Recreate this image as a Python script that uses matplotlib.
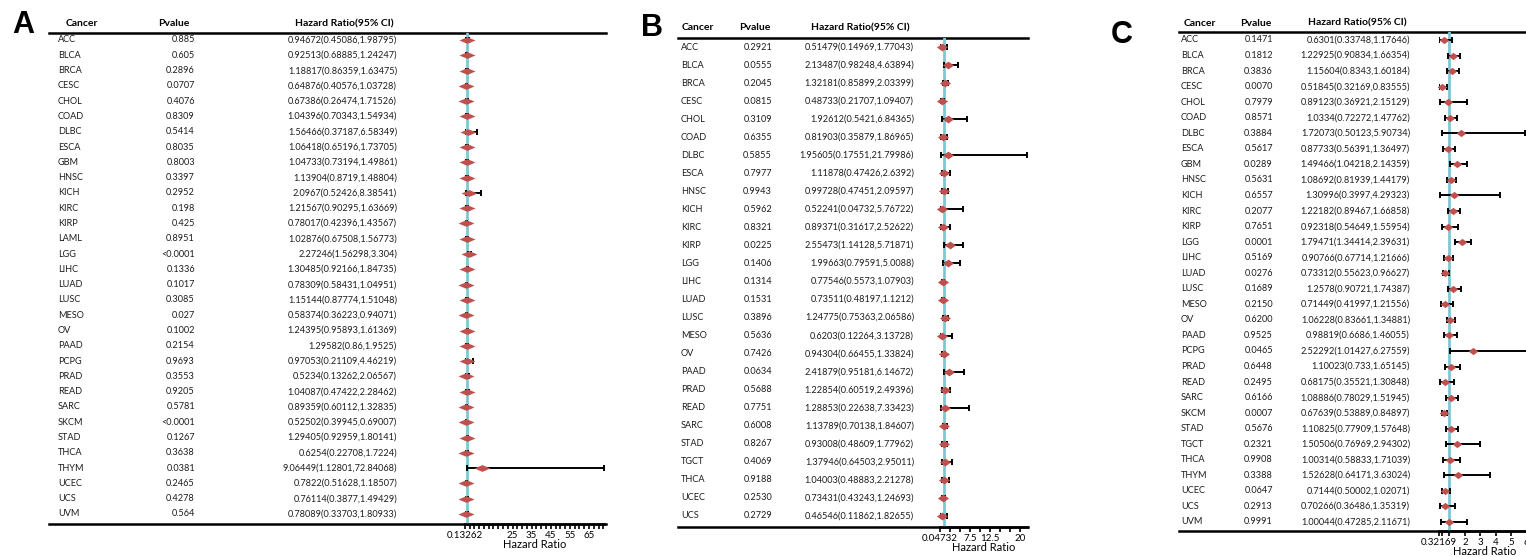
import numpy as np
import matplotlib
matplotlib.use("Agg")
import matplotlib.pyplot as plt
from matplotlib.transforms import blended_transform_factory

plt.rcParams['font.family'] = ['Lato', 'DejaVu Sans']

W, H = 1526, 557

# ---------------- panel A ----------------
cancer_a = ["ACC", "BLCA", "BRCA", "CESC", "CHOL", "COAD", "DLBC", "ESCA", "GBM", "HNSC",
            "KICH", "KIRC", "KIRP", "LAML", "LGG", "LIHC", "LUAD", "LUSC", "MESO", "OV",
            "PAAD", "PCPG", "PRAD", "READ", "SARC", "SKCM", "STAD", "THCA", "THYM", "UCEC",
            "UCS", "UVM"]
pval_a = ["0.885", "0.605", "0.2896", "0.0707", "0.4076", "0.8309", "0.5414", "0.8035", "0.8003", "0.3397",
          "0.2952", "0.198", "0.425", "0.8951", "<0.0001", "0.1336", "0.1017", "0.3085", "0.027", "0.1002",
          "0.2154", "0.9693", "0.3553", "0.9205", "0.5781", "<0.0001", "0.1267", "0.3638", "0.0381", "0.2465",
          "0.4278", "0.564"]
hr_a = [0.94672, 0.92513, 1.18817, 0.64876, 0.67386, 1.04396, 1.56466, 1.06418, 1.04733, 1.13904,
        2.0967, 1.21567, 0.78017, 1.02876, 2.27246, 1.30485, 0.78309, 1.15144, 0.58374, 1.24395,
        1.29582, 0.97053, 0.5234, 1.04087, 0.89359, 0.52502, 1.29405, 0.6254, 9.06449, 0.7822,
        0.76114, 0.78089]
low_a = [0.45086, 0.68885, 0.86359, 0.40576, 0.26474, 0.70343, 0.37187, 0.65196, 0.73194, 0.8719,
         0.52426, 0.90295, 0.42396, 0.67508, 1.56298, 0.92166, 0.58431, 0.87774, 0.36223, 0.95893,
         0.86, 0.21109, 0.13262, 0.47422, 0.60112, 0.39945, 0.92959, 0.22708, 1.12801, 0.51628,
         0.3877, 0.33703]
high_a = [1.98795, 1.24247, 1.63475, 1.03728, 1.71526, 1.54934, 6.58349, 1.73705, 1.49861, 1.48804,
          8.38541, 1.63669, 1.43567, 1.56773, 3.304, 1.84735, 1.04951, 1.51048, 0.94071, 1.61369,
          1.9525, 4.46219, 2.06567, 2.28462, 1.32835, 0.69007, 1.80141, 1.7224, 72.84068, 1.18507,
          1.49429, 1.80933]
ticks_a = np.arange(2.5, 73, 2.5)
labels_a = [25, 35, 45, 55, 65]

# ---------------- panel B ----------------
cancer_b = ["ACC", "BLCA", "BRCA", "CESC", "CHOL", "COAD", "DLBC", "ESCA", "HNSC", "KICH",
            "KIRC", "KIRP", "LGG", "LIHC", "LUAD", "LUSC", "MESO", "OV", "PAAD", "PRAD",
            "READ", "SARC", "STAD", "TGCT", "THCA", "UCEC", "UCS"]
pval_b = ["0.2921", "0.0555", "0.2045", "0.0815", "0.3109", "0.6355", "0.5855", "0.7977", "0.9943", "0.5962",
          "0.8321", "0.0225", "0.1406", "0.1314", "0.1531", "0.3896", "0.5636", "0.7426", "0.0634", "0.5688",
          "0.7751", "0.6008", "0.8267", "0.4069", "0.9188", "0.2530", "0.2729"]
hr_b = [0.51479, 2.13487, 1.32181, 0.48733, 1.92612, 0.81903, 1.95605, 1.11878, 0.99728, 0.52241,
        0.89371, 2.55473, 1.99663, 0.77546, 0.73511, 1.24775, 0.6203, 0.94304, 2.41879, 1.22854,
        1.28853, 1.13789, 0.93008, 1.37946, 1.04003, 0.73431, 0.46546]
low_b = [0.14969, 0.98248, 0.85899, 0.21707, 0.5421, 0.35879, 0.17551, 0.47426, 0.47451, 0.04732,
         0.31617, 1.14128, 0.79591, 0.5573, 0.48197, 0.75363, 0.12264, 0.66455, 0.95181, 0.60519,
         0.22638, 0.70138, 0.48609, 0.64503, 0.48883, 0.43243, 0.11862]
high_b = [1.77043, 4.63894, 2.03399, 1.09407, 6.84365, 1.86965, 21.79986, 2.6392, 2.09597, 5.76722,
          2.52622, 5.71871, 5.0088, 1.07903, 1.1212, 2.06586, 3.13728, 1.33824, 6.14672, 2.49396,
          7.33423, 1.84607, 1.77962, 2.95011, 2.21278, 1.24693, 1.82655]
ticks_b = np.arange(2.5, 21, 2.5)
labels_b = [7.5, 12.5, 20]

# ---------------- panel C ----------------
cancer_c = ["ACC", "BLCA", "BRCA", "CESC", "CHOL", "COAD", "DLBC", "ESCA", "GBM", "HNSC",
            "KICH", "KIRC", "KIRP", "LGG", "LIHC", "LUAD", "LUSC", "MESO", "OV", "PAAD",
            "PCPG", "PRAD", "READ", "SARC", "SKCM", "STAD", "TGCT", "THCA", "THYM", "UCEC",
            "UCS", "UVM"]
pval_c = ["0.1471", "0.1812", "0.3836", "0.0070", "0.7979", "0.8571", "0.3884", "0.5617", "0.0289", "0.5631",
          "0.6557", "0.2077", "0.7651", "0.0001", "0.5169", "0.0276", "0.1689", "0.2150", "0.6200", "0.9525",
          "0.0465", "0.6448", "0.2495", "0.6166", "0.0007", "0.5676", "0.2321", "0.9908", "0.3388", "0.0647",
          "0.2913", "0.9991"]
hr_c = [0.6301, 1.22925, 1.15604, 0.51845, 0.89123, 1.0334, 1.72073, 0.87733, 1.49466, 1.08692,
        1.30996, 1.22182, 0.92318, 1.79471, 0.90766, 0.73312, 1.2578, 0.71449, 1.06228, 0.98819,
        2.52292, 1.10023, 0.68175, 1.08886, 0.67639, 1.10825, 1.50506, 1.00314, 1.52628, 0.7144,
        0.70266, 1.00044]
low_c = [0.33748, 0.90834, 0.8343, 0.32169, 0.36921, 0.72272, 0.50123, 0.56391, 1.04218, 0.81939,
         0.3997, 0.89467, 0.54649, 1.34414, 0.67714, 0.55623, 0.90721, 0.41997, 0.83661, 0.6686,
         1.01427, 0.733, 0.35521, 0.78029, 0.53889, 0.77909, 0.76969, 0.58833, 0.64171, 0.50002,
         0.36486, 0.47285]
high_c = [1.17646, 1.66354, 1.60184, 0.83555, 2.15129, 1.47762, 5.90734, 1.36497, 2.14359, 1.44179,
          4.29323, 1.66858, 1.55954, 2.39631, 1.21666, 0.96627, 1.74387, 1.21556, 1.34881, 1.46055,
          6.27559, 1.65145, 1.30848, 1.51945, 0.84897, 1.57648, 2.94302, 1.71039, 3.63024, 1.02071,
          1.35319, 2.11671]
ticks_c = [0.5, 1, 2, 3, 4, 5, 6]
labels_c = [2, 3, 4, 5, 6]

RED = '#c0504d'
CYAN = '#7cc8d3'
TXT = '#1c1c1c'


def fx(px):
    return px / W


def fy(py):
    return 1 - py / H


def forest(fig, letter, cancer, pval, hr, low, high, ticks, shown, lay):
    n = len(cancer)
    step = (lay['last'] - lay['first']) / (n - 1)
    y_top = -(lay['first'] - lay['top']) / step
    y_bot = (n - 1) + (lay['bottom'] - lay['last']) / step
    rows = np.arange(n)
    hr, low, high = np.array(hr), np.array(low), np.array(high)

    # table frame (top rule + bottom rule)
    tab = fig.add_axes([fx(lay['left']), fy(lay['bottom']),
                        fx(lay['right']) - fx(lay['left']), fy(lay['top']) - fy(lay['bottom'])])
    tab.set_ylim(y_bot, y_top)
    tab.set_xticks([])
    tab.set_yticks([])
    tab.patch.set_visible(False)
    for s in ['left', 'right']:
        tab.spines[s].set_visible(False)
    for s in ['top', 'bottom']:
        tab.spines[s].set_linewidth(1.8)

    tr = blended_transform_factory(fig.transFigure, tab.transData)
    for i in rows:
        tab.text(fx(lay['name_x']), i, cancer[i], transform=tr, ha='left', va='center',
                 fontsize=6.6, color=TXT)
        tab.text(fx(lay['p_x']), i, pval[i], transform=tr, ha='right', va='center',
                 fontsize=6.6, color=TXT)
        tab.text(fx(lay['hr_x']), i, f"{hr[i]}({low[i]},{high[i]})", transform=tr,
                 ha='right', va='center', fontsize=6.6, color=TXT)

    hy = fy(lay['head_y'])
    fig.text(fx(lay['h1']), hy, "Cancer", ha='center', va='center', fontsize=7.5, fontweight='bold')
    fig.text(fx(lay['h2']), hy, "Pvalue", ha='center', va='center', fontsize=7.5, fontweight='bold')
    fig.text(fx(lay['h3']), hy, "Hazard Ratio(95% CI)", ha='center', va='center', fontsize=7.5,
             fontweight='bold')
    fig.text(fx(lay['lx']), fy(lay['ly']), letter, ha='center', va='center', fontsize=22,
             fontweight='bold', family='Liberation Sans')

    # forest part
    ax = fig.add_axes([fx(lay['f_left']), fy(lay['bottom']),
                       fx(lay['f_right']) - fx(lay['f_left']), fy(lay['top']) - fy(lay['bottom'])])
    ax.patch.set_visible(False)
    ax.set_ylim(y_bot, y_top)
    ax.set_xlim(low.min(), high.max())
    for s in ['left', 'right', 'top']:
        ax.spines[s].set_visible(False)
    ax.spines['bottom'].set_linewidth(1.8)
    ax.set_yticks([])
    ax.axvline(1, color=CYAN, lw=2, zorder=1)
    ax.errorbar(hr, rows, xerr=[hr - low, high - hr], fmt='none', ecolor='black',
                elinewidth=1.4, capsize=2, capthick=1.4, zorder=2)
    a = lay['m_aspect']
    ax.plot(hr, rows, ls='none', color=RED, markeredgewidth=0, ms=lay['m_size'],
            marker=[(-1, 0), (0, a), (1, 0), (0, -a), (-1, 0)], zorder=3, clip_on=False)

    tk = [low.min()] + list(ticks)
    tl = [str(low.min())] + [f"{v:g}" if v in shown else "" for v in ticks]
    ax.set_xticks(tk)
    ax.set_xticklabels(tl)
    ax.tick_params(axis='x', length=3.5, width=1.2, pad=1.5, labelsize=7, colors='black')
    ax.set_xlabel("Hazard Ratio", fontsize=8, labelpad=-1)
    return ax


fig = plt.figure(figsize=(W / 100, H / 100), dpi=100)

lay_a = dict(left=49, right=606, top=33, bottom=524, first=40, last=514,
             f_left=465, f_right=604, name_x=58, p_x=195, hr_x=397,
             head_y=24, h1=82, h2=174, h3=344, lx=23, ly=25, m_size=11.5, m_aspect=0.42)
lay_b = dict(left=678, right=1028, top=38, bottom=527, first=47, last=516,
             f_left=940, f_right=1027, name_x=681, p_x=772, hr_x=914,
             head_y=28, h1=698, h2=755, h3=860, lx=652, ly=28, m_size=8, m_aspect=0.7)
lay_c = dict(left=1179, right=1540, top=32, bottom=531, first=40, last=522,
             f_left=1439, f_right=1531, name_x=1181, p_x=1273, hr_x=1410,
             head_y=23, h1=1200, h2=1256, h3=1357, lx=1122, ly=35, m_size=7, m_aspect=0.75)

forest(fig, "A", cancer_a, pval_a, hr_a, low_a, high_a, ticks_a, labels_a, lay_a)
forest(fig, "B", cancer_b, pval_b, hr_b, low_b, high_b, ticks_b, labels_b, lay_b)
forest(fig, "C", cancer_c, pval_c, hr_c, low_c, high_c, ticks_c, labels_c, lay_c)

fig.savefig("out.png", dpi=100)
